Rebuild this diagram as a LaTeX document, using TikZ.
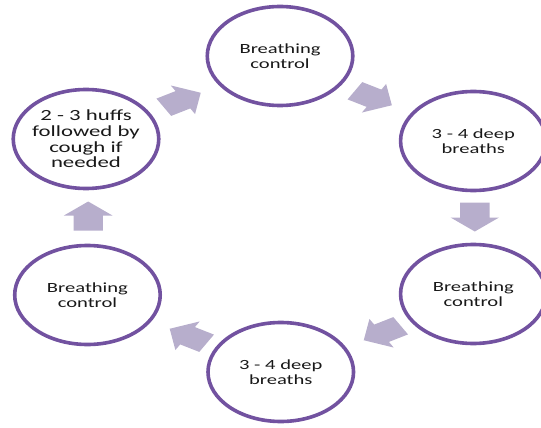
\documentclass[tikz,border=0pt]{standalone}
\usepackage{fontspec}
\newfontfamily\lblfont{Carlito}
\definecolor{ring}{RGB}{114,82,160}
\definecolor{arrowfill}{RGB}{183,174,204}
\tikzset{
  stage/.style={circle, draw=ring, line width=3.6pt, fill=white, minimum size=99pt,
    inner sep=0pt, align=center, text=black!90,
    font=\lblfont\fontsize{14}{15}\selectfont},
  bigtext/.style={font=\lblfont\fontsize{15.5}{15.6}\selectfont},
  pics/blockarr/.style={code={
    \fill[arrowfill] (-14.5pt,-10pt) -- (0.5pt,-10pt) -- (0.5pt,-16.5pt) -- (14.5pt,0pt)
      -- (0.5pt,16.5pt) -- (0.5pt,10pt) -- (-14.5pt,10pt) -- cycle;}}
}
\begin{document}
\begin{tikzpicture}[x=1pt,y=-1pt]
\useasboundingbox (0,0) rectangle (541,428);
\clip (0,0) rectangle (541,428);
\begin{scope}[xscale=1.47, transform shape]
  \node[stage] (n1) at (190.5,56) {Breathing\\control};
  \node[stage] (n2) at (322,141) {3 - 4 deep\\breaths};
  \node[stage] (n3) at (322,294) {Breathing\\control};
  \node[stage] (n4) at (191,372) {3 - 4 deep\\breaths};
  \node[stage] (n5) at (59.5,295) {Breathing\\control};
  \node[stage, bigtext] (n6) at (58.5,139) {2 - 3 huffs\\followed by\\cough if\\needed};
  \pic[rotate=-30] at (254,98) {blockarr};
  \pic[rotate=-90] at (323,217) {blockarr};
  \pic[rotate=-150] at (260,333) {blockarr};
  \pic[rotate=150] at (128,336) {blockarr};
  \pic[rotate=90] at (60,216) {blockarr};
  \pic[rotate=30] at (124,100) {blockarr};
\end{scope}
\end{tikzpicture}
\end{document}
